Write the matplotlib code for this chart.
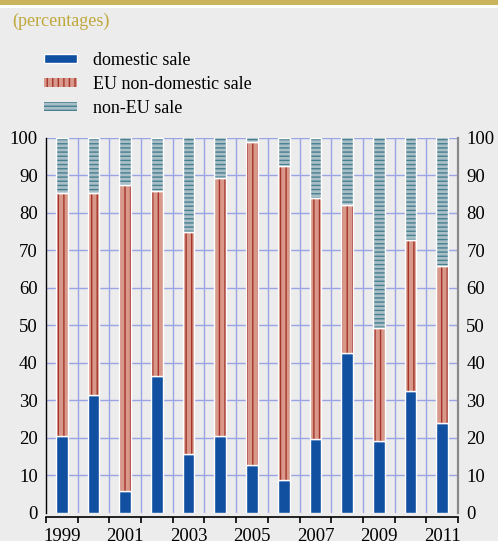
import numpy as np
import matplotlib.pyplot as plt
from matplotlib.patches import Patch, Rectangle

plt.rcParams['font.family'] = ['Liberation Serif', 'DejaVu Serif']
plt.rcParams['hatch.linewidth'] = 1.0

years = [1999, 2000, 2001, 2002, 2003, 2004, 2005, 2006, 2007, 2008, 2009, 2010, 2011]
domestic = [20.3, 31.4, 5.8, 36.4, 15.6, 20.3, 12.6, 8.6, 19.6, 42.6, 19.0, 32.4, 24.0]
eu_top = [85.1, 85.1, 87.3, 85.7, 74.8, 89.1, 98.8, 92.5, 83.9, 82.1, 49.3, 72.7, 65.8]
eu_share = [t - d for t, d in zip(eu_top, domestic)]
non_eu = [100 - t for t in eu_top]
year_labels = [str(y) if y % 2 == 1 else '' for y in years]

bg = '#ececec'
blue = '#1150a1'
salmon, salmon_line = '#d8988a', '#a5342a'
grey_blue, teal = '#a9bec7', '#45808f'
grid_col = '#9aa4e2'

fig = plt.figure(figsize=(4.98, 5.41), dpi=100, facecolor=bg)
ax = fig.add_axes([46 / 498, 28.4 / 541, 412 / 498, 375.1 / 541], facecolor=bg)

x = np.arange(len(years))
w = 0.37

# domestic
ax.bar(x, domestic, w, color=blue, edgecolor='white', linewidth=1, zorder=3)
# EU non-domestic: hatch drawn in edge colour, white outline on top
ax.bar(x, eu_share, w, bottom=domestic, facecolor=salmon, edgecolor=salmon_line,
       hatch='|||', linewidth=0, zorder=3)
ax.bar(x, eu_share, w, bottom=domestic, fill=False, edgecolor='white',
       linewidth=1, zorder=4)
# non-EU
ax.bar(x, non_eu, w, bottom=eu_top, facecolor=grey_blue, edgecolor=teal,
       hatch='----', linewidth=0, zorder=3)
ax.bar(x, non_eu, w, bottom=eu_top, fill=False, edgecolor='white',
       linewidth=1, zorder=4)

ax.set_xlim(-0.5, len(years) - 0.5)
ax.set_ylim(0, 100)

# grid: horizontal at every 10, vertical at category boundaries
for yv in range(10, 101, 10):
    ax.axhline(yv, color=grid_col, lw=1, zorder=1)
for b in np.arange(0.5, len(years) - 1, 1):
    ax.axvline(b, color=grid_col, lw=1, zorder=1)

ax.set_yticks(range(0, 101, 10))
ax.tick_params(axis='y', which='both', direction='in', length=3, width=1,
               labelsize=13.5, pad=6, right=False, labelright=True)
ax.tick_params(axis='y', which='both', right=True, length=0)

ax.set_xticks(np.arange(-0.5, len(years), 1))
ax.set_xticklabels([])
ax.set_xticks(x, minor=True)
ax.set_xticklabels(year_labels, minor=True)
ax.tick_params(axis='x', which='major', direction='out', length=4, width=1.2)
ax.tick_params(axis='x', which='minor', length=0, labelsize=13.5, pad=8)

ax.spines['top'].set_visible(False)
ax.spines['bottom'].set_position(('outward', 3))
ax.spines['bottom'].set_linewidth(1.2)
ax.spines['left'].set_linewidth(1)
ax.spines['right'].set_color('#8a8a8a')
ax.spines['right'].set_linewidth(1.6)

# header strip
fig.add_artist(Rectangle((0, 1 - 5 / 541), 1, 5 / 541, transform=fig.transFigure,
                         color='#c9b45b', lw=0))
fig.add_artist(Rectangle((0, 1 - 8 / 541), 1, 3 / 541, transform=fig.transFigure,
                         color='white', lw=0))
fig.text(12 / 498, 1 - 21 / 541, '(percentages)', color='#bfa73c', fontsize=13,
         va='center', ha='left')

handles = [
    Patch(facecolor=blue, edgecolor='white', linewidth=1),
    Patch(facecolor=salmon, edgecolor=salmon_line, hatch='|||', linewidth=0),
    Patch(facecolor=grey_blue, edgecolor=teal, hatch='----', linewidth=0),
]
fig.legend(handles, ['domestic sale', 'EU non-domestic sale', 'non-EU sale'],
           loc='upper left', bbox_to_anchor=(44 / 498, 1 - 52 / 541),
           frameon=False, fontsize=13, handlelength=1.85, handleheight=0.35,
           handletextpad=0.85, labelspacing=0.38, borderaxespad=0, borderpad=0)

fig.savefig('out.png', dpi=100, facecolor=bg)
